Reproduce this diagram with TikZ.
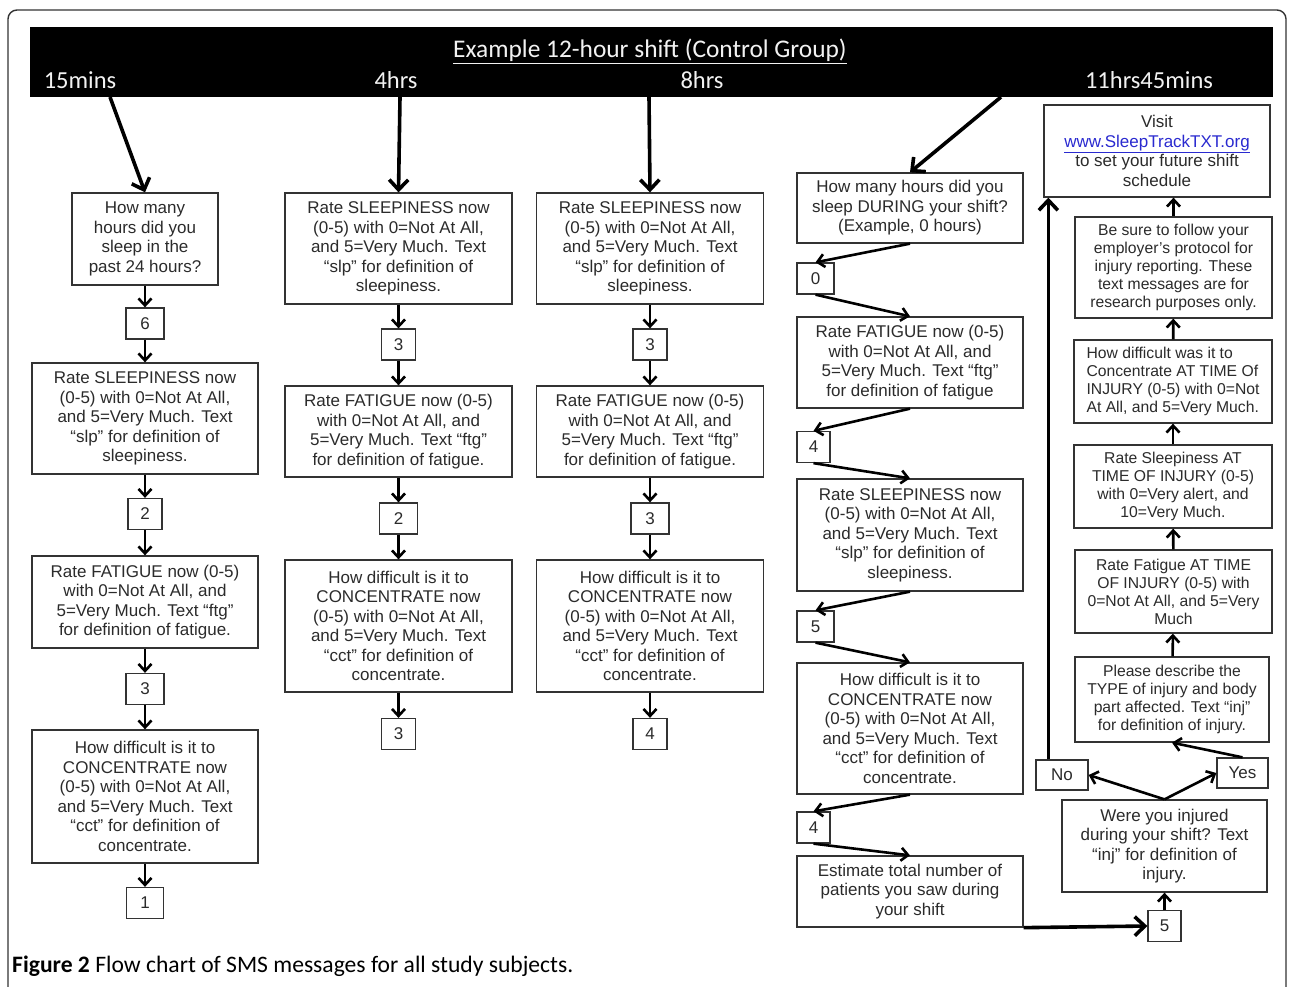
\documentclass[tikz,border=0pt]{standalone}
\usepackage{fontspec}
\setmainfont{Liberation Sans}
\newfontfamily\calfont{Carlito}
\usetikzlibrary{arrows.meta,calc}
\definecolor{boxline}{HTML}{333333}
\definecolor{txt}{HTML}{2B2B2B}
\definecolor{linkblue}{HTML}{2A2AD0}
\definecolor{hdrtxt}{HTML}{F2F2F2}
\begin{document}
\begin{tikzpicture}[x=1pt,y=-1pt,
  box/.style={draw=boxline,line width=1.3pt,fill=white,align=center,inner sep=0pt,text=txt,font=\fontsize{17}{19.5}\selectfont},
  sbox/.style={box,font=\fontsize{15.7}{18}\selectfont},
  num/.style={box,minimum height=31},
  arr/.style={line width=2.6pt,-{Straight Barb[length=7pt,width=13pt]}},
  bigarr/.style={line width=3.6pt,-{Straight Barb[length=10pt,width=19pt]}},
  hdr/.style={text=hdrtxt,font=\calfont\fontsize{24.5}{28}\selectfont,inner sep=0pt},
]
\useasboundingbox (0,0) rectangle (1290,987);
\fill[white] (0,0) rectangle (1290,987);
% frame
\draw[boxline,line width=1.4pt,rounded corners=9pt] (8,1000) -- (8,10) -- (1286,10) -- (1286,1000);
% header bar
\node[fill=black,minimum width=1243,minimum height=70,inner sep=0pt] (bar) at (651.5,62.5) {};
\node[hdr,font=\calfont\fontsize{25.4}{28}\selectfont] (title) at (650,51) {\underline{Example 12-hour shift (Control Group)}};
\node[hdr] (l1) at (80,80) {15mins};
\node[hdr] (l2) at (396,80) {4hrs};
\node[hdr] (l3) at (702,80) {8hrs};
\node[hdr] (l4) at (1149,80) {11hrs45mins};
\coordinate (s1) at (110,97);
\coordinate (s2) at (400,97);
\coordinate (s3) at (649,97);
\coordinate (s4) at (1001,97);

% column A
\node[box,minimum width=146,minimum height=92] (A1) at (145,239) {How many\\hours did you\\sleep in the\\past 24 hours?};
\node[num,minimum width=38] (a6) at (145,323.5) {6};
\node[box,minimum width=226,minimum height=111] (A2) at (145,418.5) {Rate SLEEPINESS now\\(0-5) with 0=Not At All,\\and 5=Very Much. Text\\“slp” for definition of\\sleepiness.};
\node[num,minimum width=34] (a2) at (145,514) {2};
\node[box,minimum width=226,minimum height=92] (A3) at (145,602) {Rate FATIGUE now (0-5)\\with 0=Not At All, and\\5=Very Much. Text “ftg”\\for definition of fatigue.};
\node[num,minimum width=38] (a3) at (145,689) {3};
\node[box,minimum width=226,minimum height=133] (A4) at (145,796.5) {How difficult is it to\\CONCENTRATE now\\(0-5) with 0=Not At All,\\and 5=Very Much. Text\\“cct” for definition of\\concentrate.};
\node[num,minimum width=37] (a1) at (145,903) {1};

% column B
\node[box,minimum width=227,minimum height=111] (B1) at (398.5,248.5) {Rate SLEEPINESS now\\(0-5) with 0=Not At All,\\and 5=Very Much. Text\\“slp” for definition of\\sleepiness.};
\node[num,minimum width=34] (b3) at (398.5,344.5) {3};
\node[box,minimum width=227,minimum height=91] (B2) at (398.5,431.5) {Rate FATIGUE now (0-5)\\with 0=Not At All, and\\5=Very Much. Text “ftg”\\for definition of fatigue.};
\node[num,minimum width=38] (b2) at (398.5,518.5) {2};
\node[box,minimum width=227,minimum height=132] (B3) at (398.5,626) {How difficult is it to\\CONCENTRATE now\\(0-5) with 0=Not At All,\\and 5=Very Much. Text\\“cct” for definition of\\concentrate.};
\node[num,minimum width=34] (b3b) at (398.5,734) {3};

% column C
\node[box,minimum width=227,minimum height=111] (C1) at (650,248.5) {Rate SLEEPINESS now\\(0-5) with 0=Not At All,\\and 5=Very Much. Text\\“slp” for definition of\\sleepiness.};
\node[num,minimum width=34] (c3) at (650,344.5) {3};
\node[box,minimum width=227,minimum height=91] (C2) at (650,431.5) {Rate FATIGUE now (0-5)\\with 0=Not At All, and\\5=Very Much. Text “ftg”\\for definition of fatigue.};
\node[num,minimum width=38] (c3b) at (650,518.5) {3};
\node[box,minimum width=227,minimum height=132] (C3) at (650,626) {How difficult is it to\\CONCENTRATE now\\(0-5) with 0=Not At All,\\and 5=Very Much. Text\\“cct” for definition of\\concentrate.};
\node[num,minimum width=34] (c4) at (650,734) {4};

% column D
\node[box,minimum width=226,minimum height=70] (D1) at (910,208) {How many hours did you\\sleep DURING your shift?\\(Example, 0 hours)};
\node[num,minimum width=37] (d0) at (815.5,278.5) {0};
\node[box,minimum width=226,minimum height=91] (D2) at (910,362.5) {Rate FATIGUE now (0-5)\\with 0=Not At All, and\\5=Very Much. Text “ftg”\\for definition of fatigue};
\node[num,minimum width=33] (d4) at (813.5,447) {4};
\node[box,minimum width=226,minimum height=112] (D3) at (910,535) {Rate SLEEPINESS now\\(0-5) with 0=Not At All,\\and 5=Very Much. Text\\“slp” for definition of\\sleepiness.};
\node[num,minimum width=37] (d5) at (815.5,626.5) {5};
\node[box,minimum width=226,minimum height=131] (D4) at (910,728.5) {How difficult is it to\\CONCENTRATE now\\(0-5) with 0=Not At All,\\and 5=Very Much. Text\\“cct” for definition of\\concentrate.};
\node[num,minimum width=33] (d4b) at (813.5,827.5) {4};
\node[box,minimum width=226,minimum height=71] (D5) at (910,891.5) {Estimate total number of\\patients you saw during\\your shift};

% column E
\node[box,minimum width=226,minimum height=92] (E1) at (1157,151) {Visit\\\textcolor{linkblue}{\underline{www.SleepTrackTXT.org}}\\to set your future shift\\schedule};
\node[sbox,minimum width=197,minimum height=101] (E2) at (1173.5,267.5) {Be sure to follow your\\employer’s protocol for\\injury reporting. These\\text messages are for\\research purposes only.};
\node[sbox,minimum width=198,minimum height=83,align=left] (E3) at (1173,381.5) {How difficult was it to\\Concentrate AT TIME Of\\INJURY (0-5) with 0=Not\\At All, and 5=Very Much.};
\node[sbox,minimum width=198,minimum height=83] (E4) at (1173,486.5) {Rate Sleepiness AT\\TIME OF INJURY (0-5)\\with 0=Very alert, and\\10=Very Much.};
\node[sbox,minimum width=197,minimum height=83] (E5) at (1173.5,591.5) {Rate Fatigue AT TIME\\OF INJURY (0-5) with\\0=Not At All, and 5=Very\\Much};
\node[sbox,minimum width=194,minimum height=85] (E6) at (1172,699.5) {Please describe the\\TYPE of injury and body\\part affected. Text “inj”\\for definition of injury.};
\node[num,minimum width=52,minimum height=30] (no) at (1062,775) {No};
\node[num,minimum width=51,minimum height=30] (yes) at (1242.5,773) {Yes};
\node[box,minimum width=205,minimum height=92] (E7) at (1164.5,846) {Were you injured\\during your shift? Text\\“inj” for definition of\\injury.};
\node[num,minimum width=33] (e5) at (1164.5,926) {5};
\coordinate (nostart) at ($(no.north west)+(13,0)$);

% header arrows
\draw[bigarr] (s1) -- (A1.north);
\draw[bigarr] (s2) -- (B1.north);
\draw[bigarr] (s3) -- (C1.north);
\draw[bigarr] (s4) -- (D1.north);

% column A arrows
\draw[arr] (A1) -- (a6);
\draw[arr] (a6) -- (A2);
\draw[arr] (A2) -- (a2);
\draw[arr] (a2) -- (A3);
\draw[arr] (A3) -- (a3);
\draw[arr] (a3) -- (A4);
\draw[arr] (A4) -- (a1);
% column B
\draw[arr] (B1) -- (b3);
\draw[arr] (b3) -- (B2);
\draw[arr] (B2) -- (b2);
\draw[arr] (b2) -- (B3);
\draw[arr] (B3) -- (b3b);
% column C
\draw[arr] (C1) -- (c3);
\draw[arr] (c3) -- (C2);
\draw[arr] (C2) -- (c3b);
\draw[arr] (c3b) -- (C3);
\draw[arr] (C3) -- (c4);
% column D zigzag
\draw[arr] (D1.south) -- (d0.north);
\draw[arr] (d0.south) -- (D2.north);
\draw[arr] (D2.south) -- (d4.north);
\draw[arr] (d4.south) -- (D3.north);
\draw[arr] (D3.south) -- (d5.north);
\draw[arr] (d5.south) -- (D4.north);
\draw[arr] (D4.south) -- (d4b.north);
\draw[arr] (d4b.south) -- (D5.north);
\draw[bigarr] (D5.south east) -- (e5.west);
% column E
\draw[arr] (e5) -- (E7);
\draw[arr] (E7.north) -- (no.east);
\draw[arr] (E7.north) -- (yes.west);
\draw[arr] (yes.north) -- (E6.south);
\draw[bigarr] (nostart) -- (nostart |- E1.south);
\draw[arr] (E6) -- (E5);
\draw[arr] (E5) -- (E4);
\draw[arr] (E4) -- (E3);
\draw[arr] (E3) -- (E2);
\draw[arr] (E2.north) -- (E2.north |- E1.south);

% caption
\node[anchor=west,inner sep=0pt,font=\calfont\fontsize{23.6}{28}\selectfont] (cap) at (12,966) {\textbf{Figure 2} Flow chart of SMS messages for all study subjects.};
\end{tikzpicture}
\end{document}
